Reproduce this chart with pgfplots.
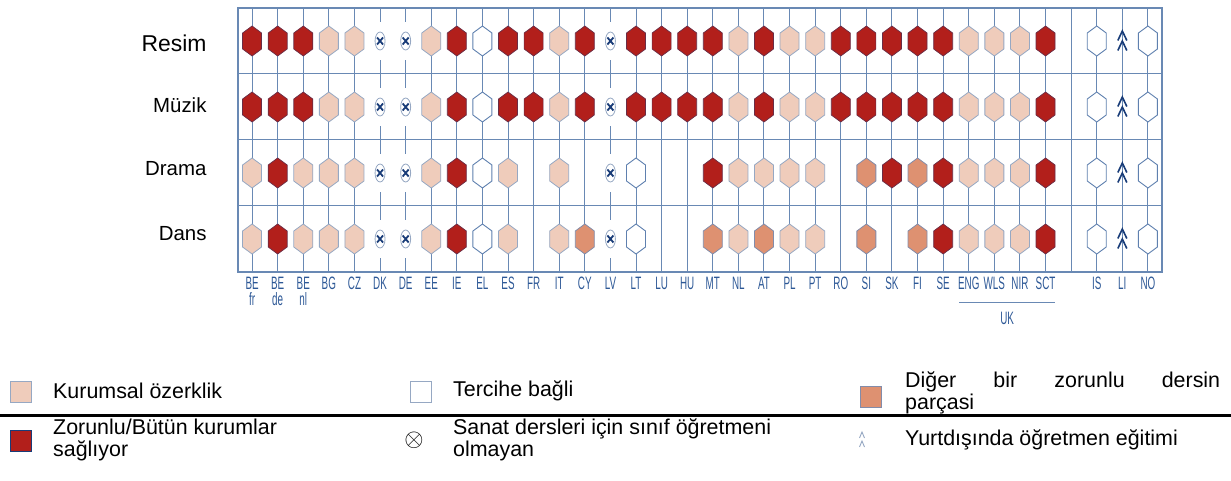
\documentclass[border=0pt]{standalone}
\usepackage{fontspec}
\setmainfont{Liberation Sans}
\usepackage{pgfplots}
\usepackage{pgfplotstable}
\pgfplotsset{compat=1.18}
\usepackage{graphicx}

\definecolor{cRed}{RGB}{178,31,27}
\definecolor{cRedB}{RGB}{105,45,70}
\definecolor{cLight}{RGB}{239,204,187}
\definecolor{cLightB}{RGB}{150,168,195}
\definecolor{cOrange}{RGB}{222,145,113}
\definecolor{cOrangeB}{RGB}{130,140,170}
\definecolor{cWhiteB}{RGB}{95,128,175}
\definecolor{gridblue}{RGB}{105,137,180}
\definecolor{tickblue}{RGB}{45,88,150}
\definecolor{navy}{RGB}{25,60,120}

\pgfdeclareplotmark{hexa}{%
 \pgfpathmoveto{\pgfpoint{0bp}{15bp}}%
 \pgfpathlineto{\pgfpoint{9.5bp}{8bp}}%
 \pgfpathlineto{\pgfpoint{9.5bp}{-8bp}}%
 \pgfpathlineto{\pgfpoint{0bp}{-15bp}}%
 \pgfpathlineto{\pgfpoint{-9.5bp}{-8bp}}%
 \pgfpathlineto{\pgfpoint{-9.5bp}{8bp}}%
 \pgfpathclose
 \pgfusepathqfillstroke}
\pgfdeclareplotmark{cover}{%
 \pgfpathrectangle{\pgfpoint{-6bp}{-19bp}}{\pgfpoint{12bp}{38bp}}%
 \pgfusepathqfill}
\pgfdeclareplotmark{ell}{%
 \pgfpathellipse{\pgfpointorigin}{\pgfpoint{5bp}{0bp}}{\pgfpoint{0bp}{9bp}}%
 \pgfusepathqfillstroke}
\pgfdeclareplotmark{xx}{%
 \pgfpathmoveto{\pgfpoint{-3bp}{-3.5bp}}\pgfpathlineto{\pgfpoint{3bp}{3.5bp}}%
 \pgfpathmoveto{\pgfpoint{-3bp}{3.5bp}}\pgfpathlineto{\pgfpoint{3bp}{-3.5bp}}%
 \pgfusepathqstroke}
\pgfdeclareplotmark{carets}{%
 \pgfpathmoveto{\pgfpoint{-4.5bp}{0.5bp}}\pgfpathlineto{\pgfpoint{0bp}{10bp}}\pgfpathlineto{\pgfpoint{4.5bp}{0.5bp}}%
 \pgfpathmoveto{\pgfpoint{-4.5bp}{-9.5bp}}\pgfpathlineto{\pgfpoint{0bp}{0bp}}\pgfpathlineto{\pgfpoint{4.5bp}{-9.5bp}}%
 \pgfusepathqstroke}

% categories: R = compulsory, L = institutional autonomy, W = optional,
% O = part of another compulsory subject, X = no class teacher, A = abroad
\pgfplotstableread[row sep=\\]{x y\\
0 3.5\\ 1 3.5\\ 2 3.5\\ 8 3.5\\ 10 3.5\\ 11 3.5\\ 13 3.5\\ 15 3.5\\ 16 3.5\\ 17 3.5\\ 18 3.5\\ 20 3.5\\ 23 3.5\\ 24 3.5\\ 25 3.5\\ 26 3.5\\ 27 3.5\\ 31 3.5\\
0 2.5\\ 1 2.5\\ 2 2.5\\ 8 2.5\\ 10 2.5\\ 11 2.5\\ 13 2.5\\ 15 2.5\\ 16 2.5\\ 17 2.5\\ 18 2.5\\ 20 2.5\\ 23 2.5\\ 24 2.5\\ 25 2.5\\ 26 2.5\\ 27 2.5\\ 31 2.5\\
1 1.5\\ 8 1.5\\ 18 1.5\\ 25 1.5\\ 27 1.5\\ 31 1.5\\
1 0.5\\ 8 0.5\\ 27 0.5\\ 31 0.5\\
}\tRed
\pgfplotstableread[row sep=\\]{x y\\
3 3.5\\ 4 3.5\\ 7 3.5\\ 12 3.5\\ 19 3.5\\ 21 3.5\\ 22 3.5\\ 28 3.5\\ 29 3.5\\ 30 3.5\\
3 2.5\\ 4 2.5\\ 7 2.5\\ 12 2.5\\ 19 2.5\\ 21 2.5\\ 22 2.5\\ 28 2.5\\ 29 2.5\\ 30 2.5\\
0 1.5\\ 2 1.5\\ 3 1.5\\ 4 1.5\\ 7 1.5\\ 10 1.5\\ 12 1.5\\ 19 1.5\\ 20 1.5\\ 21 1.5\\ 22 1.5\\ 28 1.5\\ 29 1.5\\ 30 1.5\\
0 0.5\\ 2 0.5\\ 3 0.5\\ 4 0.5\\ 7 0.5\\ 10 0.5\\ 12 0.5\\ 19 0.5\\ 21 0.5\\ 22 0.5\\ 28 0.5\\ 29 0.5\\ 30 0.5\\
}\tLight
\pgfplotstableread[row sep=\\]{x y\\
9 3.5\\ 33 3.5\\ 35 3.5\\
9 2.5\\ 33 2.5\\ 35 2.5\\
9 1.5\\ 15 1.5\\ 33 1.5\\ 35 1.5\\
9 0.5\\ 15 0.5\\ 33 0.5\\ 35 0.5\\
}\tWhite
\pgfplotstableread[row sep=\\]{x y\\
24 1.5\\ 26 1.5\\
13 0.5\\ 18 0.5\\ 20 0.5\\ 24 0.5\\ 26 0.5\\
}\tOrange
\pgfplotstableread[row sep=\\]{x y\\
5 3.5\\ 6 3.5\\ 14 3.5\\
5 2.5\\ 6 2.5\\ 14 2.5\\
5 1.5\\ 6 1.5\\ 14 1.5\\
5 0.5\\ 6 0.5\\ 14 0.5\\
}\tNoTeacher
\pgfplotstableread[row sep=\\]{x y\\
34 3.5\\ 34 2.5\\ 34 1.5\\ 34 0.5\\
}\tAbroad

\newcommand{\tl}[1]{\scalebox{0.55}[1]{#1}}

\begin{document}
\begin{tikzpicture}
\path[use as bounding box] (0bp,0bp) rectangle (1231bp,481bp);
\begin{axis}[
  at={(238bp,209bp)}, anchor=south west,
  scale only axis, width=924bp, height=264bp,
  xmin=-0.55, xmax=35.55, ymin=0, ymax=4,
  clip=false,
  axis line style={gridblue, line width=1.2bp},
  grid style={gridblue, line width=1bp},
  xmajorgrids=true, ymajorgrids=true,
  major tick length=0pt,
  xtick={0,1,2,3,4,5,6,7,8,9,10,11,12,13,14,15,16,17,18,19,20,21,22,23,24,25,26,27,28,29,30,31,33,34,35},
  xticklabels={{\tl{BE}\\[1.5bp]\tl{fr}},{\tl{BE}\\[1.5bp]\tl{de}},{\tl{BE}\\[1.5bp]\tl{nl}},\tl{BG},\tl{CZ},\tl{DK},\tl{DE},\tl{EE},\tl{IE},\tl{EL},\tl{ES},\tl{FR},\tl{IT},\tl{CY},\tl{LV},\tl{LT},\tl{LU},\tl{HU},\tl{MT},\tl{NL},\tl{AT},\tl{PL},\tl{PT},\tl{RO},\tl{SI},\tl{SK},\tl{FI},\tl{SE},\tl{ENG},\tl{WLS},\tl{NIR},\tl{SCT},\tl{IS},\tl{LI},\tl{NO}},
  xticklabel style={font=\fontsize{18}{15}\selectfont, text=tickblue, inner sep=0pt, anchor=north, yshift=-5bp, align=center},
  extra x ticks={32}, extra x tick labels={},
  extra x tick style={xmajorgrids=true},
  ytick={1,2,3}, yticklabels={},
]
\addplot[only marks, mark=hexa, mark options={fill=cRed, draw=cRedB, line width=0.7bp}] table {\tRed};
\addplot[only marks, mark=hexa, mark options={fill=cLight, draw=cLightB, line width=0.8bp}] table {\tLight};
\addplot[only marks, mark=hexa, mark options={fill=white, draw=cWhiteB, line width=0.9bp}] table {\tWhite};
\addplot[only marks, mark=hexa, mark options={fill=cOrange, draw=cOrangeB, line width=0.8bp}] table {\tOrange};
\addplot[only marks, mark=cover, mark options={fill=white}] table {\tNoTeacher};
\addplot[only marks, mark=ell, mark options={fill=white, draw=cLightB, line width=0.8bp}] table {\tNoTeacher};
\addplot[only marks, mark=xx, mark options={draw=navy, line width=1.8bp}] table {\tNoTeacher};
\addplot[only marks, mark=carets, mark options={draw=navy, line width=1.6bp}] table {\tAbroad};
\draw[gridblue, line width=1bp] (axis cs:27.62,-0.455) -- (axis cs:31.35,-0.455);
\node[font=\fontsize{18}{18}\selectfont, text=tickblue] at (axis cs:29.5,-0.70) {\tl{UK}};
\end{axis}

\begin{scope}[x=1bp,y=1bp]
% row labels
\node[anchor=base east, font=\fontsize{23}{23}\selectfont] at (210,429) {Resim};
\node[anchor=base east, font=\fontsize{20.5}{20.5}\selectfont] at (210,369) {Müzik};
\node[anchor=base east, font=\fontsize{20.5}{20.5}\selectfont] at (210,306) {Drama};
\node[anchor=base east, font=\fontsize{20.5}{20.5}\selectfont] at (210,241) {Dans};

% legend
\begin{scope}[every node/.style={font=\fontsize{21.5}{22}\selectfont, inner sep=0pt}]
\draw[fill=cLight, draw=cLightB, line width=0.8bp] (10,79) rectangle (31,100);
\node[anchor=west] at (53,90) {Kurumsal özerklik};
\draw[fill=white, draw=cLightB, line width=0.8bp] (410,79) rectangle (431,100);
\node[anchor=west] at (453,90) {Tercihe bağli};
\draw[fill=cOrange, draw=cOrangeB, line width=0.8bp] (860,74) rectangle (881,95);
\node[anchor=west] at (905,88) {\parbox{315bp}{Diğer\hfill bir\hfill zorunlu\hfill dersin\\parçasi}};
\draw[line width=2.5bp] (0,65.5) -- (1231,65.5);
\draw[fill=cRed, draw=navy, line width=0.8bp] (10,30) rectangle (31,51);
\node[anchor=west, align=left] at (53,41) {Zorunlu/Bütün kurumlar\\sağlıyor};
\node at (414,41) {\fontsize{24}{24}\selectfont$\otimes$};
\node[anchor=west, align=left] at (453,41) {Sanat dersleri için sınıf öğretmeni\\olmayan};
\draw[cLightB, line width=0.9bp] (859.5,43)--(862,49)--(864.5,43) (859.5,34)--(862,40)--(864.5,34);
\node[anchor=west] at (905,41) {Yurtdışında öğretmen eğitimi};
\end{scope}
\end{scope}
\end{tikzpicture}
\end{document}
